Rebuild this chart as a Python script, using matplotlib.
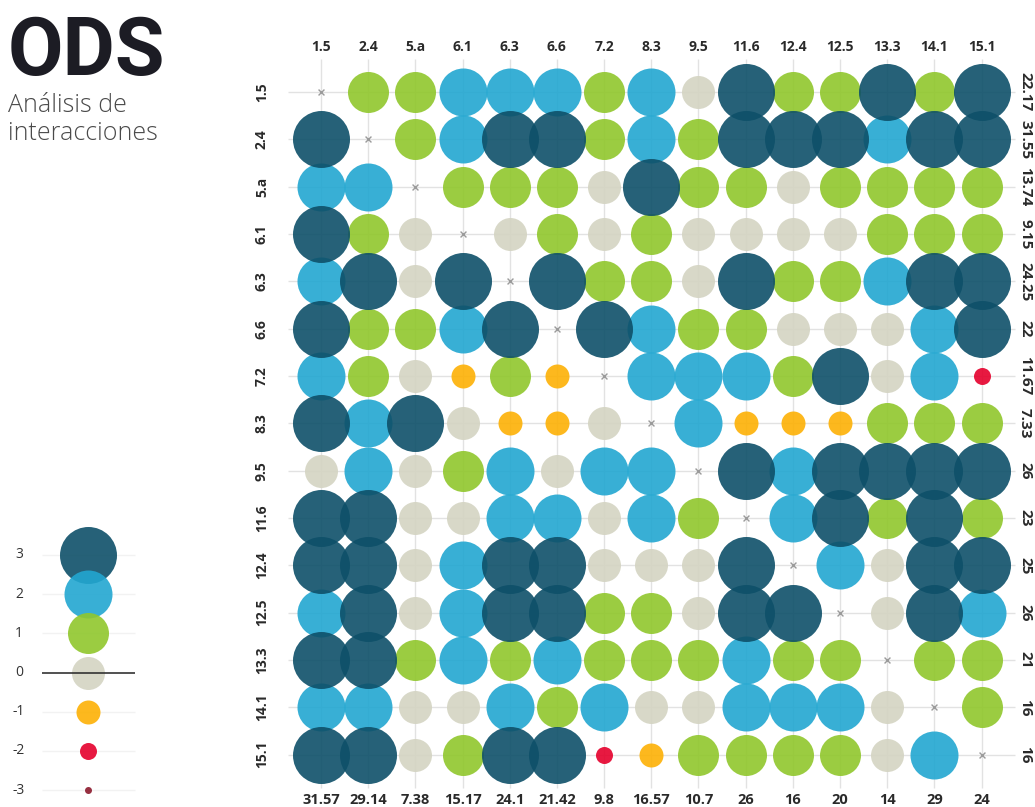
import numpy as np
import matplotlib
matplotlib.use("Agg")
import matplotlib.pyplot as plt

# ODS targets (rows = origin, columns = destination)
targets = ["1.5", "2.4", "5.a", "6.1", "6.3", "6.6", "7.2", "8.3",
           "9.5", "11.6", "12.4", "12.5", "13.3", "14.1", "15.1"]

# interaction scores, None on the diagonal
N = None
scores = [
    [N, 1, 1, 2, 2, 2, 1, 2, 0, 3, 1, 1, 3, 1, 3],
    [3, N, 1, 2, 3, 3, 1, 2, 1, 3, 3, 3, 2, 3, 3],
    [2, 2, N, 1, 1, 1, 0, 3, 1, 1, 0, 1, 1, 1, 1],
    [3, 1, 0, N, 0, 1, 0, 1, 0, 0, 0, 0, 1, 1, 1],
    [2, 3, 0, 3, N, 3, 1, 1, 0, 3, 1, 1, 2, 3, 3],
    [3, 1, 1, 2, 3, N, 3, 2, 1, 1, 0, 0, 0, 2, 3],
    [2, 1, 0, -1, 1, -1, N, 2, 2, 2, 1, 3, 0, 2, -2],
    [3, 2, 3, 0, -1, -1, 0, N, 2, -1, -1, -1, 1, 1, 1],
    [0, 2, 0, 1, 2, 0, 2, 2, N, 3, 2, 3, 3, 3, 3],
    [3, 3, 0, 0, 2, 2, 0, 2, 1, N, 2, 3, 1, 3, 1],
    [3, 3, 0, 2, 3, 3, 0, 0, 0, 3, N, 2, 0, 3, 3],
    [2, 3, 0, 2, 3, 3, 1, 1, 0, 3, 3, N, 0, 3, 2],
    [3, 3, 1, 2, 1, 2, 1, 1, 1, 2, 1, 1, N, 1, 1],
    [2, 2, 0, 0, 2, 1, 2, 0, 0, 2, 2, 2, 0, N, 1],
    [3, 3, 0, 1, 3, 3, -2, -1, 1, 1, 1, 1, 0, 2, N],
]

row_totals = ["22.17", "31.55", "13.74", "9.15", "24.25", "22", "11.67", "7.33",
              "26", "23", "25", "26", "21", "16", "16"]
col_totals = ["31.57", "29.14", "7.38", "15.17", "24.1", "21.42", "9.8", "16.57",
              "10.7", "26", "16", "20", "14", "29", "24"]

legend_levels = [3, 2, 1, 0, -1, -2, -3]

# styling per score level
colors = {3: "#0e5069", 2: "#22a7d1", 1: "#90c72c", 0: "#d4d4c2",
          -1: "#fdb105", -2: "#e5002c", -3: "#8c1a2d"}
diam_px = {3: 57, 2: 48, 1: 41, 0: 33, -1: 24, -2: 17, -3: 7}


def msize(v):
    return (diam_px[v] * 0.72) ** 2


fig = plt.figure(figsize=(10.35, 8.07), dpi=100)

# main matrix
ax = fig.add_axes([0.2645, 0.0062, 0.7295, 0.9385])
n = len(targets)
ax.set_xlim(-1, n)
ax.set_ylim(n, -1)
ax.axis("off")

ax.hlines(range(n), -0.7, n - 0.3, color="#e2e2e2", lw=1, zorder=0)
ax.vlines(range(n), -0.7, n - 0.3, color="#e2e2e2", lw=1, zorder=0)

arr = np.array([[np.nan if v is None else v for v in row] for row in scores])
for lvl in sorted(colors):
    yy, xx = np.where(arr == lvl)
    ax.scatter(xx, yy, s=msize(lvl), color=colors[lvl], alpha=0.9,
               linewidths=0, zorder=2)
dy, dx = np.where(np.isnan(arr))
ax.scatter(dx, dy, marker="x", s=18, color="#9a9a9a", linewidths=1, zorder=3)

lab_font = dict(family="Open Sans", weight="bold", color="#2a2a2a")
for i, t in enumerate(targets):
    ax.text(i, -0.95, t, ha="center", va="center", fontsize=10, clip_on=False, **lab_font)
    ax.text(-1.25, i, t, ha="center", va="center", rotation=90, fontsize=10,
            clip_on=False, **lab_font)
    ax.text(14.92, i, row_totals[i], ha="center", va="center", rotation=270,
            fontsize=11, clip_on=False, **lab_font)
    ax.text(i, 14.95, col_totals[i], ha="center", va="center", fontsize=10.5,
            clip_on=False, **lab_font)

# legend
lax = fig.add_axes([0, 0, 160 / 1035, 287 / 807])
lax.set_xlim(0, 160)
lax.set_ylim(-3.43, 3.89)
lax.axis("off")
for lvl in legend_levels:
    if lvl == 0:
        lax.hlines(lvl, 42, 135, color="#333333", lw=1.2, zorder=4)
    else:
        lax.hlines(lvl, 42, 135, color="#f2f2f2", lw=1, zorder=0)
    lax.scatter(88, lvl, s=msize(lvl), color=colors[lvl], alpha=0.9,
                linewidths=0, zorder=2)
    lax.text(19, lvl, str(lvl), ha="center", va="center", fontsize=10,
             family="Open Sans", color="#333333")

# titles
fig.text(8 / 1035, 1 - 75 / 807, "ODS", fontsize=58, weight="bold",
         family="Roboto", color="#1c1c24", va="baseline")
fig.text(8 / 1035, 1 - 112 / 807, "Análisis de", fontsize=18,
         family="Open Sans", weight="light", color="#4a4a4a", va="baseline")
fig.text(8 / 1035, 1 - 140 / 807, "interacciones", fontsize=18,
         family="Open Sans", weight="light", color="#4a4a4a", va="baseline")

fig.savefig("out.png", dpi=100)
